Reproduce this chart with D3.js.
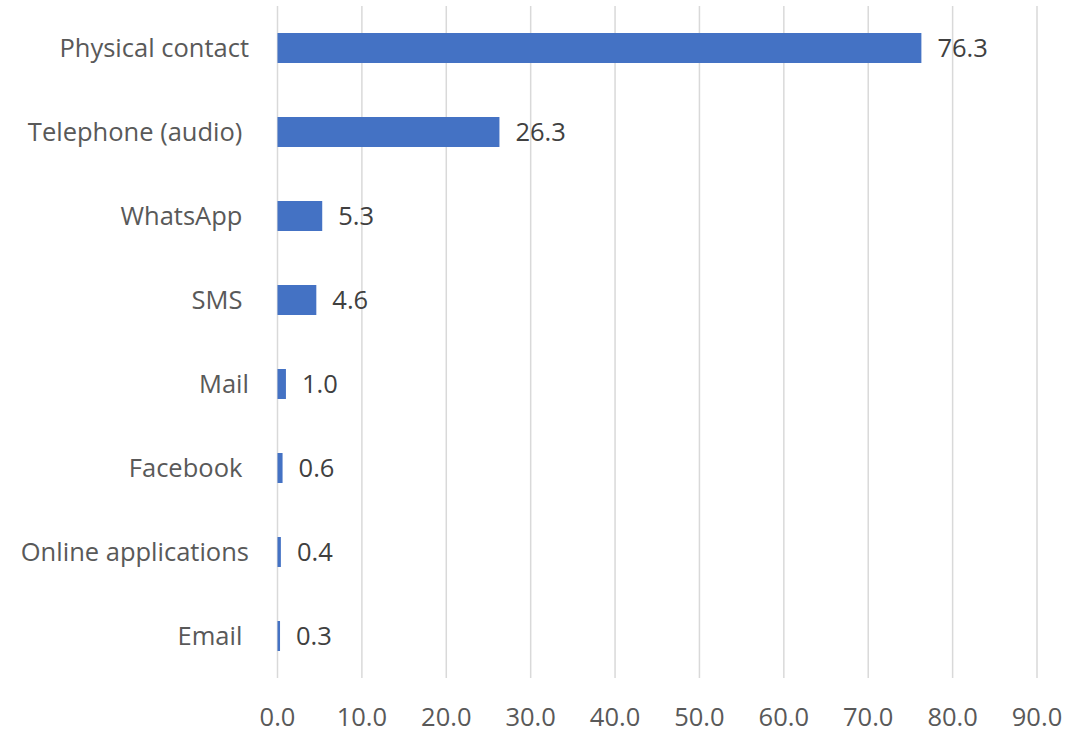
<!DOCTYPE html>
<html><head><meta charset="utf-8">
<script src="https://cdn.jsdelivr.net/npm/d3@7"></script>
<style>body{margin:0;background:#fff;} svg{display:block;} text{white-space:pre;}</style>
</head><body>
<svg id="chart" width="1089" height="731"></svg>
<script>
const categories = ["Physical contact","Telephone (audio) ","WhatsApp ","SMS ","Mail","Facebook ","Online applications","Email "];
const values = [76.3, 26.3, 5.3, 4.6, 1.0, 0.6, 0.4, 0.3];
const ticks = [0,10,20,30,40,50,60,70,80,90];

(function(){
const svg = d3.select("#chart");
const font = "'Open Sans', Lato, sans-serif";
const fs = 25.5;
const plotLeft = 277.5, plotRight = 1037, plotTop = 6, plotBottom = 678;
const x = d3.scaleLinear().domain([0,90]).range([plotLeft,plotRight]);
const y = d3.scaleBand().domain(categories).range([plotTop,plotBottom]).paddingInner(0.643).paddingOuter(0.3215);

svg.append("g").selectAll("line").data(ticks).join("line")
  .attr("x1", d=>x(d)).attr("x2", d=>x(d)).attr("y1", plotTop).attr("y2", plotBottom)
  .attr("stroke", "#d9d9d9").attr("stroke-width", 1.5);

svg.append("g").selectAll("rect").data(values).join("rect")
  .attr("x", x(0)).attr("y", (d,i)=>y(categories[i]))
  .attr("width", d=>x(d)-x(0)).attr("height", y.bandwidth())
  .attr("fill", "#4472c4");

svg.append("g").selectAll("text").data(values).join("text")
  .attr("x", d=>x(d)+16).attr("y", (d,i)=>y(categories[i])+y.bandwidth()/2)
  .attr("dy","0.36em").attr("font-family",font).attr("font-size",fs)
  .attr("fill","#404040").text(d=>d.toFixed(1));

svg.append("g").selectAll("text").data(categories).join("text")
  .attr("x", 249).attr("y", d=>y(d)+y.bandwidth()/2)
  .attr("dy","0.36em").attr("text-anchor","end").attr("font-family",font).attr("font-size",fs)
  .attr("fill","#595959").text(d=>d);

svg.append("g").selectAll("text").data(ticks).join("text")
  .attr("x", d=>x(d)).attr("y", 716.5)
  .attr("dy","0.36em").attr("text-anchor","middle").attr("font-family",font).attr("font-size",fs)
  .attr("fill","#595959").text(d=>d.toFixed(1));
})();
</script>
</body></html>
